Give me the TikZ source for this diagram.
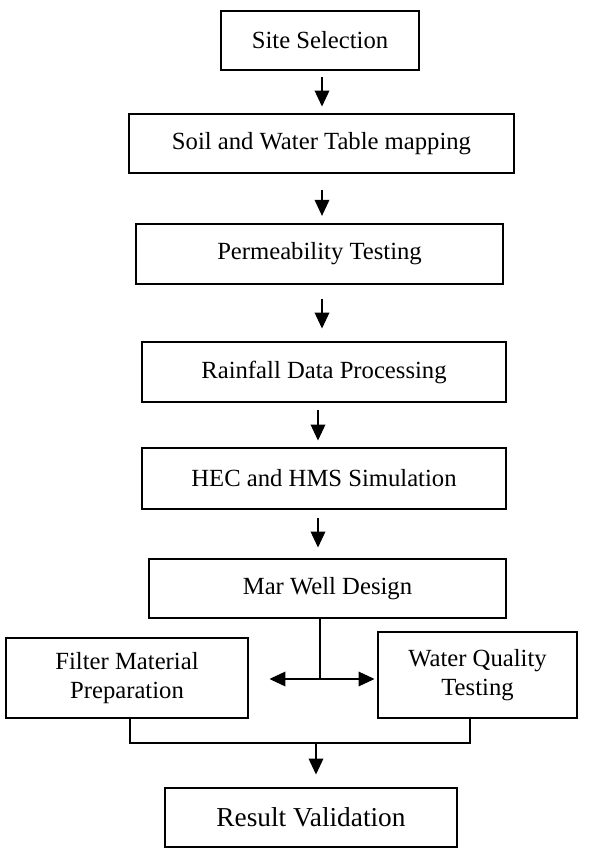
\documentclass[tikz,border=0pt]{standalone}
\usepackage{fontspec}
\setmainfont{Liberation Serif}
\usetikzlibrary{arrows.meta}
\begin{document}
\begin{tikzpicture}[x=0.75pt,y=-0.75pt,
  box/.style 2 args={draw, line width=2.2pt, inner sep=0pt, align=center,
    minimum width=#1*0.75pt, minimum height=#2*0.75pt,
    font=\fontsize{18.5}{21.5}\selectfont},
  conn/.style={line width=1pt},
  arr/.style={conn, -{Triangle[length=12pt,width=11pt]}},
  darr/.style={conn, {Triangle[length=12pt,width=11pt]}-{Triangle[length=12pt,width=11pt]}}]
\useasboundingbox (0,0) rectangle (591,864);
\node[box={198}{59}] (site) at (320,40.5) {Site Selection};
\node[box={385}{59}] (soil) at (321.5,143.5) {Soil and Water Table mapping};
\node[box={367}{60}] (perm) at (319.5,254) {Permeability Testing};
\node[box={364}{60}] (rain) at (324,372) {Rainfall Data Processing};
\node[box={364}{61}] (hec) at (324,478.5) {HEC and HMS Simulation};
\node[box={357}{59}] (mar) at (327.5,588.5) {Mar Well Design};
\node[box={242}{80}] (filter) at (127,678) {Filter Material\\Preparation};
\node[box={199}{86}] (wq) at (477.5,675) {Water Quality\\Testing};
\node[box={292}{59}, font=\fontsize{20.5}{24}\selectfont] (result) at (311,817.5) {Result Validation};
\coordinate (ax1) at (322,0);
\coordinate (ax2) at (318,0);
\coordinate (split) at (320,679);
\coordinate (lx) at (130,0);
\coordinate (rx) at (470,0);
\coordinate (join) at (316,743);
\draw[arr, shorten <=4.5pt, shorten >=4.5pt] (site.south -| ax1) -- (soil.north -| ax1);
\draw[arr, shorten <=12pt, shorten >=5pt] (soil.south -| ax1) -- (perm.north -| ax1);
\draw[arr, shorten <=10pt, shorten >=9pt] (perm.south -| ax1) -- (rain.north -| ax1);
\draw[arr, shorten <=5pt, shorten >=4.5pt] (rain.south -| ax2) -- (hec.north -| ax2);
\draw[arr, shorten <=6pt, shorten >=7.5pt] (hec.south -| ax2) -- (mar.north -| ax2);
\draw[conn] (mar.south -| split) -- (split);
\draw[darr, shorten <=15pt, shorten >=1.5pt] (filter.east |- split) -- (wq.west |- split);
\draw[conn] (filter.south -| lx) -- (lx |- join) -| (wq.south -| rx);
\draw[arr, shorten >=9pt] (join) -- (result.north -| join);
\end{tikzpicture}
\end{document}
